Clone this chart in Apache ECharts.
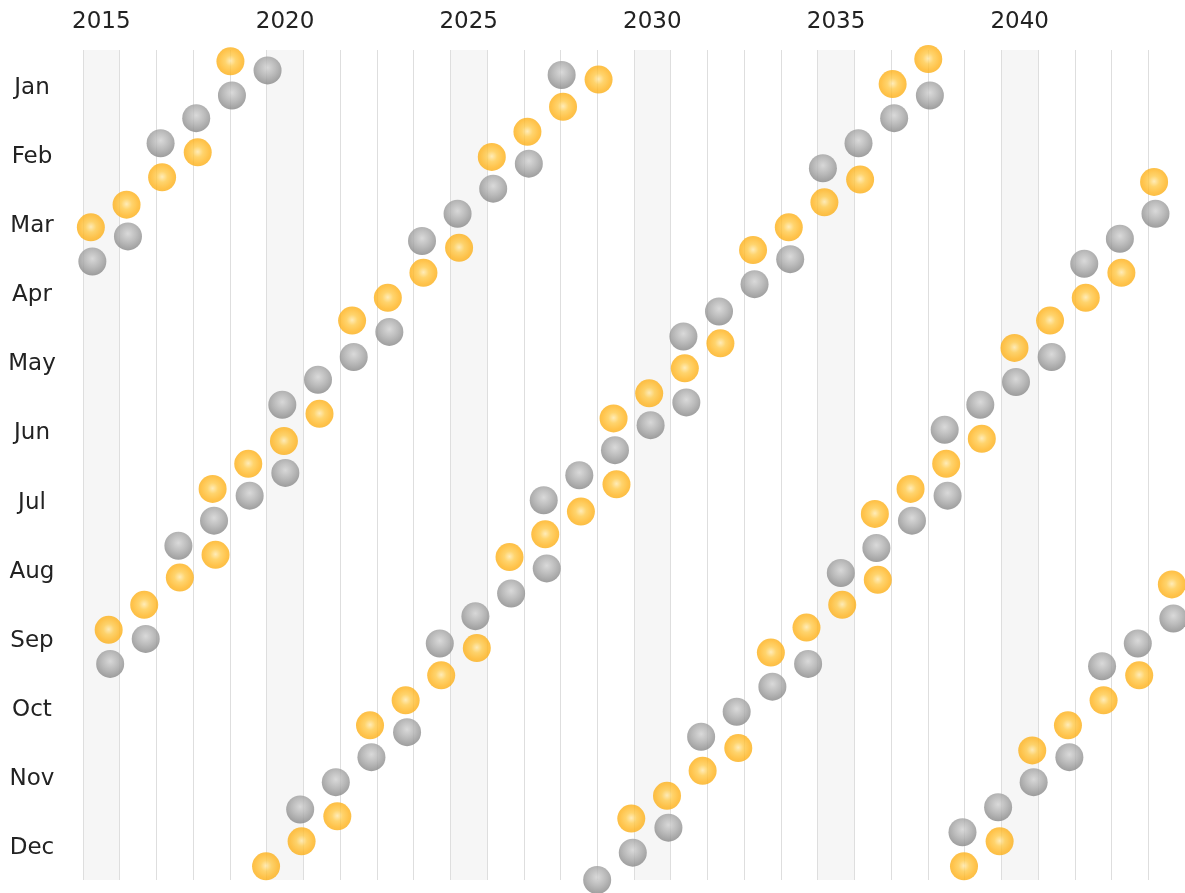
<!DOCTYPE html>
<html>
<head>
<meta charset="utf-8">
<script src="https://cdn.jsdelivr.net/npm/echarts@6/dist/echarts.min.js"></script>
<style>
html,body{margin:0;padding:0;background:#fff;}
#chart{width:1185px;height:893px;}
</style>
</head>
<body>
<div id="chart"></div>
<script>
// Year tick labels (one category per year; a label is shown every 5 years)
const yearLabels = ['2015','2016','2017','2018','2019','2020','2021','2022','2023','2024',
  '2025','2026','2027','2028','2029','2030','2031','2032','2033','2034',
  '2035','2036','2037','2038','2039','2040','2041','2042','2043','2044'];
// Month tick labels
const monthLabels = ['Jan','Feb','Mar','Apr','May','Jun','Jul','Aug','Sep','Oct','Nov','Dec'];

// Solar eclipses (orange)
const solarEclipses = [
  '2015-03-20','2015-09-13','2016-03-09','2016-09-01','2017-02-26','2017-08-21',
  '2018-02-15','2018-07-13','2018-08-11','2019-01-06','2019-07-02','2019-12-26',
  '2020-06-21','2020-12-14','2021-06-10','2021-12-04','2022-04-30','2022-10-25',
  '2023-04-20','2023-10-14','2024-04-08','2024-10-02','2025-03-29','2025-09-21',
  '2026-02-17','2026-08-12','2027-02-06','2027-08-02','2028-01-26','2028-07-22',
  '2029-01-14','2029-06-12','2029-07-11','2029-12-05','2030-06-01','2030-11-25',
  '2031-05-21','2031-11-14','2032-05-09','2032-11-03','2033-03-30','2033-09-23',
  '2034-03-20','2034-09-12','2035-03-09','2035-09-02','2036-02-27','2036-07-23',
  '2036-08-21','2037-01-16','2037-07-13','2038-01-05','2038-07-02','2038-12-26',
  '2039-06-21','2039-12-15','2040-05-11','2040-11-04','2041-04-30','2041-10-25',
  '2042-04-20','2042-10-14','2043-04-09','2043-10-03','2044-02-28','2044-08-23'
];

// Lunar eclipses (grey)
const lunarEclipses = [
  '2015-04-04','2015-09-28','2016-03-23','2016-09-16','2017-02-11','2017-08-07',
  '2018-01-31','2018-07-27','2019-01-21','2019-07-16','2020-01-10','2020-06-05',
  '2020-07-05','2020-11-30','2021-05-26','2021-11-19','2022-05-16','2022-11-08',
  '2023-05-05','2023-10-28','2024-03-25','2024-09-18','2025-03-14','2025-09-07',
  '2026-03-03','2026-08-28','2027-02-20','2027-07-18','2027-08-17','2028-01-12',
  '2028-07-06','2028-12-31','2029-06-26','2029-12-20','2030-06-15','2030-12-09',
  '2031-05-07','2031-06-05','2031-10-30','2032-04-25','2032-10-18','2033-04-14',
  '2033-10-08','2034-04-03','2034-09-28','2035-02-22','2035-08-19','2036-02-11',
  '2036-08-07','2037-01-31','2037-07-27','2038-01-21','2038-06-17','2038-07-16',
  '2038-12-11','2039-06-06','2039-11-30','2040-05-26','2040-11-18','2041-05-16',
  '2041-11-08','2042-04-05','2042-09-29','2043-03-25','2043-09-19','2044-03-13',
  '2044-09-07'
];

// date -> [fractional year, day of year]
function toPoint(s) {
  const p = s.split('-').map(Number);
  const start = Date.UTC(p[0], 0, 1);
  const doy = (Date.UTC(p[0], p[1] - 1, p[2]) - start) / 86400000;
  const len = (Date.UTC(p[0] + 1, 0, 1) - start) / 86400000;
  return [p[0] + doy / len, doy, s];
}

const FONT = "'DejaVu Sans', Verdana, sans-serif";

const greyBall = new echarts.graphic.RadialGradient(0.5, 0.4, 0.62, [
  { offset: 0, color: '#d0d0d0' },
  { offset: 0.5, color: '#ababab' },
  { offset: 1, color: '#838383' }
]);
const orangeBall = new echarts.graphic.RadialGradient(0.5, 0.48, 0.55, [
  { offset: 0, color: '#ffe7a6' },
  { offset: 0.35, color: '#ffc948' },
  { offset: 0.75, color: '#ffb41e' },
  { offset: 1, color: '#f9ac14' }
]);

const chart = echarts.init(document.getElementById('chart'), null, { renderer: 'canvas' });
chart.setOption({
  animation: false,
  backgroundColor: '#ffffff',
  grid: [
    { left: 83, right: -5, top: 50, bottom: 13 },
    { left: 83, right: -5, top: 53, bottom: 10 }
  ],
  xAxis: [
    {
      type: 'value', gridIndex: 0, min: 2015, max: 2045, interval: 1, position: 'top',
      axisLine: { show: false }, axisTick: { show: false }, axisLabel: { show: false },
      splitLine: { show: true, lineStyle: { color: '#dedede', width: 1 } },
      splitArea: { show: true, areaStyle: { color: ['#f6f6f6', 'rgba(255,255,255,0)', 'rgba(255,255,255,0)', 'rgba(255,255,255,0)', 'rgba(255,255,255,0)'] } }
    },
    {
      type: 'category', gridIndex: 0, data: yearLabels, position: 'top', boundaryGap: true,
      axisLine: { show: false }, axisTick: { show: false }, splitLine: { show: false },
      axisLabel: { interval: 4, margin: 16, fontSize: 23, fontFamily: FONT, color: '#222' }
    },
    {
      type: 'value', gridIndex: 1, show: false, min: 2015, max: 2045
    }
  ],
  yAxis: [
    {
      type: 'value', gridIndex: 0, min: 0, max: 365, inverse: true,
      axisLine: { show: false }, axisTick: { show: false }, axisLabel: { show: false },
      splitLine: { show: false }
    },
    {
      type: 'category', gridIndex: 1, data: monthLabels, inverse: true, boundaryGap: true, position: 'left',
      axisLine: { show: false }, axisTick: { show: false }, splitLine: { show: false },
      axisLabel: { interval: 0, align: 'center', margin: 51, fontSize: 23, fontFamily: FONT, color: '#222' }
    }
  ],
  series: [
    {
      name: 'Lunar eclipse', type: 'scatter', xAxisIndex: 0, yAxisIndex: 0,
      symbol: 'circle', symbolSize: 28,
      itemStyle: { color: greyBall },
      data: lunarEclipses.map(toPoint)
    },
    {
      name: 'Solar eclipse', type: 'scatter', xAxisIndex: 0, yAxisIndex: 0,
      symbol: 'circle', symbolSize: 28,
      itemStyle: { color: orangeBall },
      data: solarEclipses.map(toPoint)
    }
  ]
});
</script>
</body>
</html>
